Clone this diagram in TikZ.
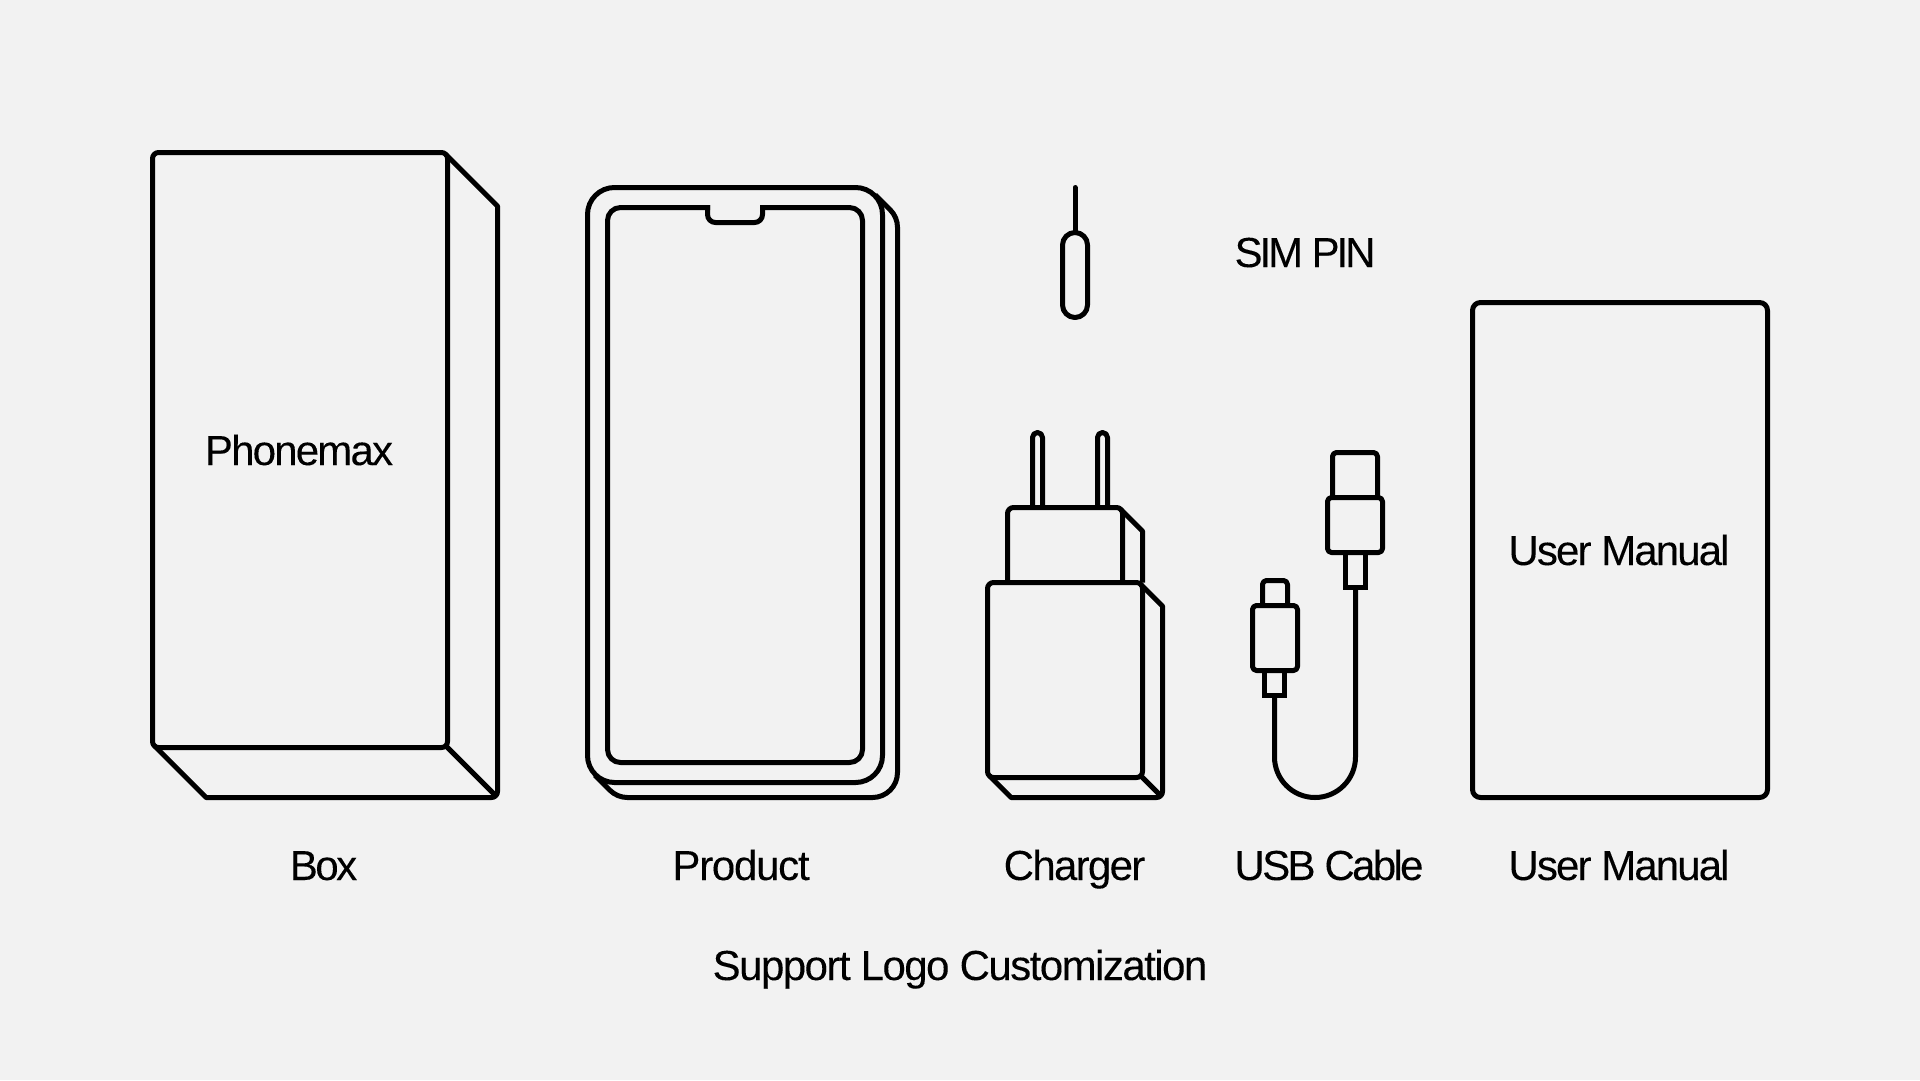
\documentclass[tikz,border=0pt]{standalone}
\usepackage{fontspec}
\setmainfont[FakeBold=0.12]{Liberation Sans}
\definecolor{bgc}{HTML}{F2F2F2}
\tikzset{
  ln/.style={draw=black,line width=5pt,line join=round,line cap=butt},
  rc/.style={ln,rounded corners=#1},
  lbl/.style={font=\fontsize{42}{50}\selectfont\addfontfeatures{LetterSpace=#1},text=black,inner sep=0pt,anchor=base}
}
\begin{document}
\begin{tikzpicture}[x=1pt,y=-1pt]
\fill[bgc] (0,0) rectangle (1920,1080);
\useasboundingbox (0,0) rectangle (1920,1080);
% box
\draw[rc=6pt] (152.5,152.5) rectangle (447.5,747.5);
\draw[ln] (445.7,154.3) -- (497.5,206.1) -- (497.5,791.5) arc[start angle=0,end angle=-90,radius=6pt] -- (206.1,797.5) -- (154.3,745.7);
\draw[ln] (445.7,745.7) -- (495.7,795.7);
% product
\draw[ln] (875.2,194.8) -- (890.2,209.8) arc[start angle=45,end angle=0,radius=25pt] -- (897.5,772.5) arc[start angle=0,end angle=-90,radius=25pt] -- (627.5,797.5) arc[start angle=-90,end angle=-135,radius=25pt] -- (594.8,775.2);
\draw[rc=27pt] (587.5,187.5) rectangle (882.5,782.5);
\draw[rc=13pt] (710,207.5) -- (607.5,207.5) -- (607.5,762.5) -- (862.5,762.5) -- (862.5,207.5) -- (760,207.5);
\draw[ln,rounded corners=8pt] (707.5,205) -- (707.5,222.5) -- (762.5,222.5) -- (762.5,205);
% sim pin
\draw[ln,line cap=round] (1075,187.5) -- (1075,232.5);
\draw[rc=12.5pt] (1062.5,232.5) rectangle (1087.5,317.5);
% charger
\draw[rc=5pt] (1032.5,507.5) -- (1032.5,432.5) -- (1042.5,432.5) -- (1042.5,507.5);
\draw[rc=5pt] (1097.5,507.5) -- (1097.5,432.5) -- (1107.5,432.5) -- (1107.5,507.5);
\draw[rc=6pt] (1007.5,582.5) -- (1007.5,507.5) -- (1122.5,507.5) -- (1122.5,582.5);
\draw[ln] (1120.7,509.3) -- (1142.5,531.1) -- (1142.5,582.5);
\draw[rc=6pt] (987.5,582.5) rectangle (1142.5,777.5);
\draw[ln] (1140.7,584.3) -- (1162.5,606.1) -- (1162.5,791.5) arc[start angle=0,end angle=-90,radius=6pt] -- (1011.1,797.5) -- (989.3,775.7);
\draw[ln] (1140.7,775.7) -- (1160.7,795.7);
% usb
\draw[ln] (1274.5,695) -- (1274.5,757) arc[start angle=180,end angle=360,radius=40.5pt] -- (1355.5,587.5);
\draw[rc=4pt] (1332.5,497.5) -- (1332.5,452.5) -- (1377.5,452.5) -- (1377.5,497.5);
\draw[rc=4pt] (1327.5,497.5) rectangle (1382.5,552.5);
\draw[ln,line join=miter] (1345.5,552.5) -- (1345.5,587.5) -- (1365.5,587.5) -- (1365.5,552.5);
\draw[rc=4pt] (1262.5,605.5) -- (1262.5,580.5) -- (1287.5,580.5) -- (1287.5,605.5);
\draw[rc=4pt] (1252.5,605.5) rectangle (1297.5,670.5);
\draw[ln,line join=miter] (1264.5,670.5) -- (1264.5,695.5) -- (1284.5,695.5) -- (1284.5,670.5);
% manual
\draw[rc=8pt] (1472.5,302.5) rectangle (1767.5,797.5);
% labels
\node[lbl=-4.3] (tphone) at (299,465) {Phonemax};
\node[lbl=-7.4] (tsim) at (1305,267) {SIM PIN};
\node[lbl=-4.5] (tum) at (1619,565) {User Manual};
\node[lbl=-6] (lbox) at (323.5,880) {Box};
\node[lbl=-3] (lprod) at (741,880) {Product};
\node[lbl=-4] (lchg) at (1074.5,880) {Charger};
\node[lbl=-6.4] (lusb) at (1329,880) {USB Cable};
\node[lbl=-4.5] (lman) at (1619,880) {User Manual};
\node[lbl=-3.65] (lsup) at (960,980) {Support Logo Customization};
\end{tikzpicture}
\end{document}
